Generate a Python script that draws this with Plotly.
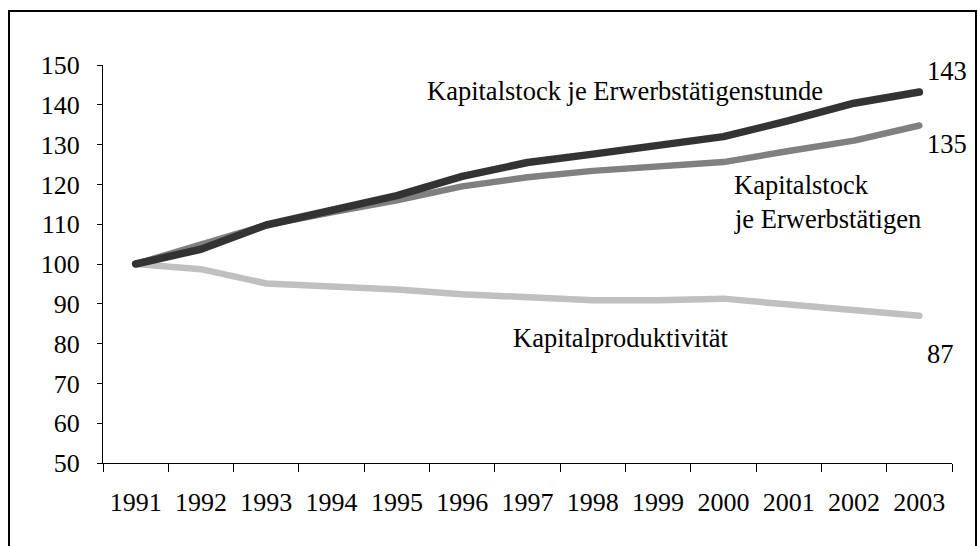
import plotly.graph_objects as go

# data
jahre = ["1991", "1992", "1993", "1994", "1995", "1996", "1997",
         "1998", "1999", "2000", "2001", "2002", "2003"]
je_stunde = [100, 103.7, 109.8, 113.4, 117.2, 122.0, 125.5,
             127.6, 129.9, 132.0, 136.0, 140.4, 143.2]
je_erwerbst = [100, 105.0, 109.8, 113.0, 116.0, 119.5, 121.8,
               123.4, 124.5, 125.6, 128.4, 131.0, 134.8]
kapitalprod = [100, 98.7, 95.1, 94.5, 93.6, 92.4, 91.5,
               90.9, 90.9, 91.3, 89.8, 88.4, 87.0]

W, H = 978, 546
L, R, T, B = 103, 952, 65, 463  # plot area in pixels

def px(x):
    return (x - L) / (R - L)

def py(y):
    return (B - y) / (B - T)

FONT = "Liberation Serif, Times New Roman, serif"

fig = go.Figure()
fig.add_trace(go.Scatter(x=jahre, y=kapitalprod, mode="lines",
                         line=dict(color="#c0c0c0", width=6.5)))
fig.add_trace(go.Scatter(x=jahre, y=je_erwerbst, mode="lines",
                         line=dict(color="#808080", width=6.5)))
fig.add_trace(go.Scatter(x=jahre, y=je_stunde, mode="lines",
                         line=dict(color="#333333", width=7.5)))

labels = [
    ("Kapitalstock je Erwerbstätigenstunde", 425, 91),
    ("143", 925, 71),
    ("135", 925, 144),
    ("Kapitalstock", 732, 185),
    ("je Erwerbstätigen", 732, 219),
    ("Kapitalproduktivität", 511, 338),
    ("87", 925, 354),
]
for txt, x, y in labels:
    fig.add_annotation(text=txt, x=px(x), y=py(y), xref="paper", yref="paper",
                       xanchor="left", yanchor="middle", showarrow=False,
                       font=dict(size=26.5, color="black", family=FONT))

# outer frame
fig.add_shape(type="rect", xref="paper", yref="paper",
              x0=px(9), x1=px(976), y0=py(570), y1=py(11),
              line=dict(color="black", width=2))

fig.update_layout(
    width=W, height=H,
    margin=dict(l=L, r=W - R, t=T, b=H - B),
    paper_bgcolor="white", plot_bgcolor="white",
    showlegend=False,
    font=dict(family=FONT, size=26, color="black"),
)
fig.update_xaxes(type="category", range=[-0.5, 12.5], tickson="boundaries",
                 ticks="outside", ticklen=8, tickcolor="black",
                 showline=True, linecolor="black", linewidth=1,
                 showgrid=False, zeroline=False, ticklabelstandoff=16,
                 tickfont=dict(size=26))
fig.update_yaxes(range=[50, 150], dtick=10, ticks="outside", ticklen=5,
                 tickcolor="black", showline=True, linecolor="black",
                 linewidth=1, showgrid=False, zeroline=False,
                 ticklabelstandoff=12, tickfont=dict(size=26))

js = """document.body.style.margin='0';
document.querySelectorAll('.js-line').forEach(function(p){
  p.style.strokeLinecap='round'; p.style.strokeLinejoin='round';});"""
fig.write_html("out.html", post_script=js, config={"displayModeBar": False})
